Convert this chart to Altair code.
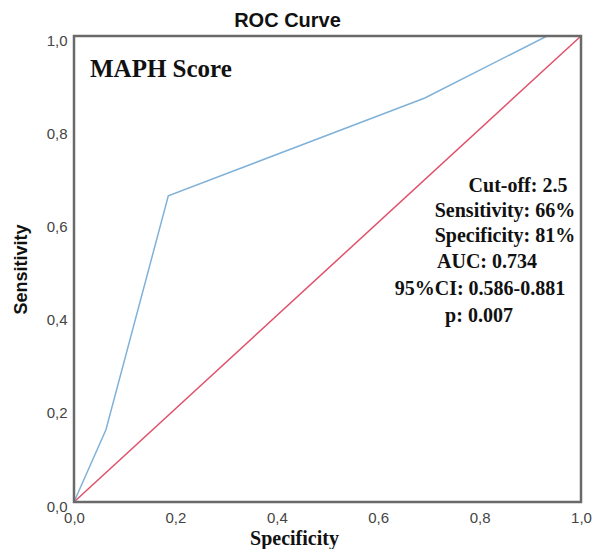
import altair as alt
import pandas as pd

# ROC curve points (1 - specificity, sensitivity)
fpr = [0.0, 0.063, 0.186, 0.692, 0.933, 1.0]
tpr = [0.0, 0.155, 0.657, 0.867, 1.0, 1.0]
ref_x = [0.0, 1.0]
ref_y = [0.0, 1.0]

panel_label = "MAPH Score"
stats_lines = ["Cut-off: 2.5", "Sensitivity: 66%", "Specificity: 81%",
               "AUC: 0.734", "95%CI: 0.586-0.881", "p: 0.007"]
tick_values = [0.0, 0.2, 0.4, 0.6, 0.8, 1.0]

roc = pd.DataFrame({"x": fpr, "y": tpr})
ref = pd.DataFrame({"x": ref_x, "y": ref_y})
one = pd.DataFrame({"k": [0]})

W, H = 507, 466
label_expr = "replace(format(datum.value, '.1f'), '.', ',')"

xscale = alt.Scale(domain=[0, 1], nice=False)
yscale = alt.Scale(domain=[0, 1], nice=False)

xaxis = alt.Axis(values=tick_values, labelExpr=label_expr, title="Specificity",
                 grid=False, ticks=False, domain=False, labelFontSize=15,
                 labelFont="Liberation Sans", labelColor="#444444", labelPadding=8,
                 titleFont="Liberation Serif", titleFontSize=20, titleFontWeight="bold",
                 titleColor="#111111", titleX=220, titleY=42, titleBaseline="alphabetic",
                 labelFlush=False)
yaxis = alt.Axis(values=tick_values, labelExpr=label_expr, title="Sensitivity",
                 grid=False, ticks=False, domain=False, labelFontSize=15,
                 labelFont="Liberation Sans", labelColor="#444444", labelPadding=7,
                 labelOffset=4, labelFlush=False,
                 titleFont="Liberation Sans", titleFontSize=18, titleFontWeight="bold",
                 titleColor="#111111", titlePadding=16)

ref_line = alt.Chart(ref).mark_line(color="#e0506a", strokeWidth=1.5).encode(
    x=alt.X("x:Q", scale=xscale, axis=xaxis),
    y=alt.Y("y:Q", scale=yscale, axis=yaxis),
)
roc_line = alt.Chart(roc).mark_line(color="#80b2d8", strokeWidth=1.5).encode(
    x=alt.X("x:Q", scale=xscale),
    y=alt.Y("y:Q", scale=yscale),
)

frame = alt.Chart(one).mark_rect(fill=None, stroke="#6a6a6a", strokeWidth=2.5).encode(
    x=alt.value(0), x2=alt.value(W), y=alt.value(0), y2=alt.value(H))

layers = [ref_line, roc_line, frame]

layers.append(alt.Chart(one).mark_text(
    font="Liberation Serif", fontSize=25, fontWeight="bold", color="#111111",
    align="left", baseline="middle").encode(
    x=alt.value(16), y=alt.value(33), text=alt.value(panel_label)))

stat_pos = [(444, 150), (431, 175), (431, 200), (413, 226), (406, 253), (405, 280)]
for line, (px, py) in zip(stats_lines, stat_pos):
    layers.append(alt.Chart(one).mark_text(
        font="Liberation Serif", fontSize=20, fontWeight="bold", color="#111111",
        align="center", baseline="middle").encode(
        x=alt.value(px), y=alt.value(py), text=alt.value(line)))

chart = alt.layer(*layers).properties(
    width=W, height=H,
    title=alt.TitleParams("ROC Curve", font="Liberation Sans", fontSize=20,
                          fontWeight="bold", color="#111111", dx=-40, offset=2),
    autosize=alt.AutoSizeParams(type="none"),
    padding={"left": 66, "top": 28, "right": 11, "bottom": 47},
).configure_view(stroke=None).configure(background="white")

chart.save("out.html", embed_options={"renderer": "svg", "actions": False})
